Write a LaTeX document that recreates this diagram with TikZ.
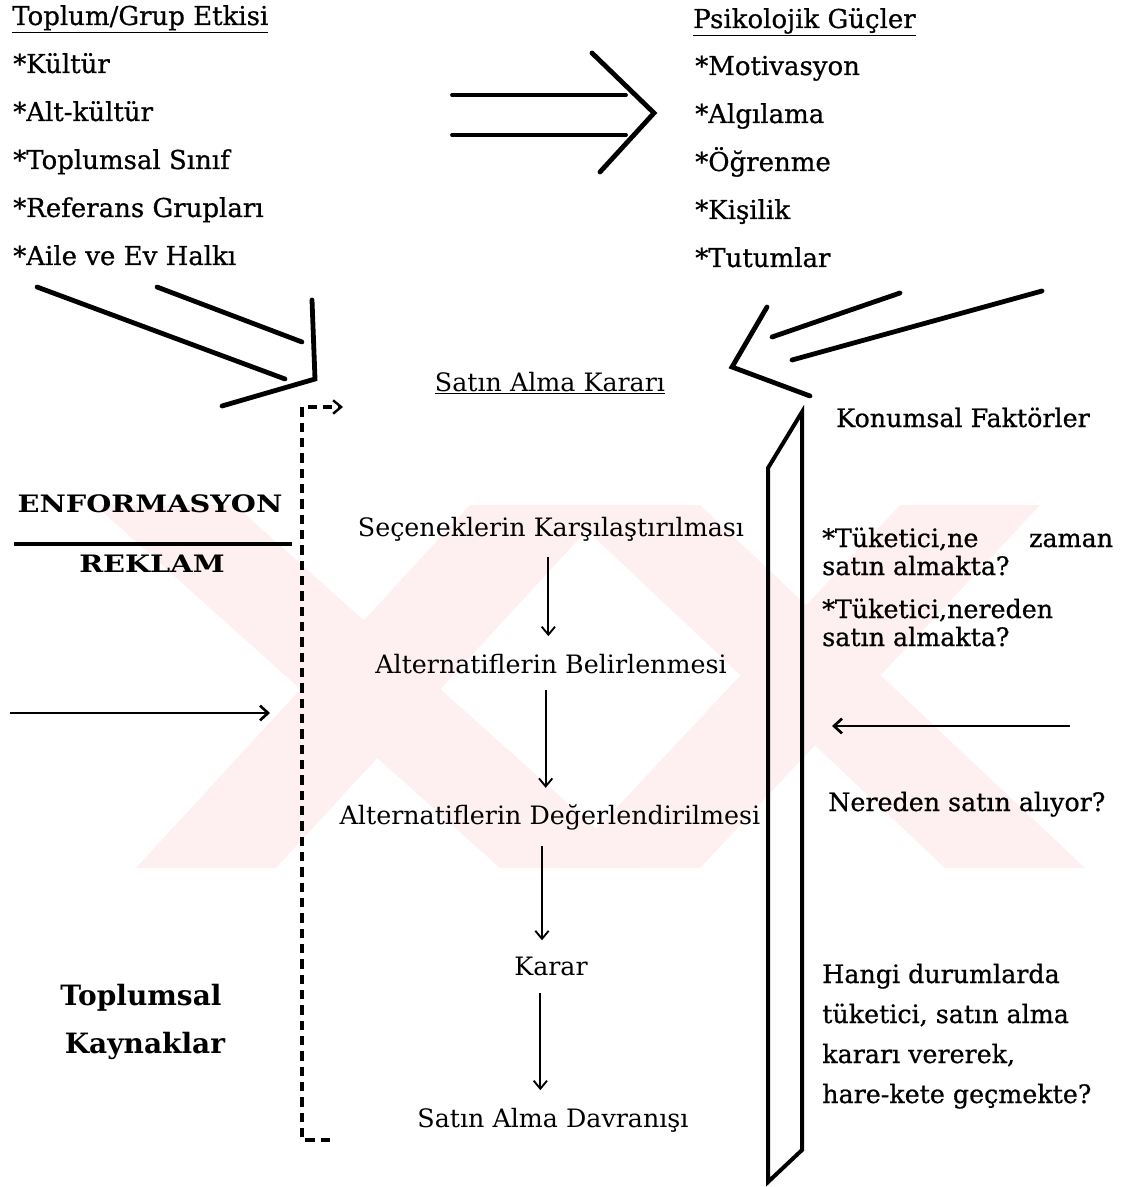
\documentclass[tikz,border=0pt]{standalone}
\usepackage{fontspec}
\setmainfont{DejaVu Serif}
\newfontfamily\widefont{DejaVu Serif}[FakeStretch=1.2]
\newfontfamily\heavyfont{DejaVu Serif}[FakeBold=0.7]
\usetikzlibrary{arrows.meta}
\definecolor{wmpink}{RGB}{254,239,241}
\begin{document}
\begin{tikzpicture}[x=0.75pt,y=-0.75pt,
  listtxt/.style={inner sep=0pt, anchor=base west, font=\heavyfont\fontsize{19.5}{22}\selectfont},
  sidetxt/.style={inner sep=0pt, anchor=base west, font=\heavyfont\fontsize{19}{22}\selectfont},
  steptxt/.style={inner sep=0pt, anchor=base, font=\fontsize{19}{22}\selectfont},
  headtxt/.style={inner sep=0pt, anchor=base, font=\widefont\bfseries\fontsize{18}{20}\selectfont},
  boldtxt/.style={inner sep=0pt, anchor=base, font=\bfseries\fontsize{21}{24}\selectfont},
  heavy/.style={line width=3.6pt, line cap=round, line join=miter},
  medium/.style={line width=2.8pt, line cap=round},
  flow/.style={line width=1.4pt, -{Straight Barb[length=6pt,width=10pt,line width=1.4pt]}},
  dashline/.style={line width=2.6pt, dash pattern=on 7pt off 4.5pt}
]
\useasboundingbox (0,0) rectangle (1121,1187);

% faint background emblem
\begin{scope}
  \fill[wmpink] (95,505) -- (235,505) -- (640,868) -- (500,868) -- cycle;
  \fill[wmpink] (470,505) -- (610,505) -- (276,868) -- (136,868) -- cycle;
  \fill[wmpink] (560,505) -- (700,505) -- (1085,868) -- (945,868) -- cycle;
  \fill[wmpink] (900,505) -- (1040,505) -- (700,868) -- (560,868) -- cycle;
\end{scope}

% group influences (top left)
\node[listtxt] (tg)  at (12,25)  {\underline{Toplum/Grup Etkisi}};
\node[listtxt] (tg1) at (13,73)  {*Kültür};
\node[listtxt] (tg2) at (13,121) {*Alt-kültür};
\node[listtxt] (tg3) at (13,169) {*Toplumsal Sınıf};
\node[listtxt] (tg4) at (13,217) {*Referans Grupları};
\node[listtxt] (tg5) at (13,265) {*Aile ve Ev Halkı};

% psychological forces (top right)
\node[listtxt] (pg)  at (693,28)  {\underline{Psikolojik Güçler}};
\node[listtxt] (pg1) at (695,75)  {*Motivasyon};
\node[listtxt] (pg2) at (695,123) {*Algılama};
\node[listtxt] (pg3) at (695,171) {*Öğrenme};
\node[listtxt] (pg4) at (695,219) {*Kişilik};
\node[listtxt] (pg5) at (695,267) {*Tutumlar};

% double arrow between the two lists
\coordinate (da1) at (452,95);  \coordinate (da2) at (626,95);
\coordinate (db1) at (452,135); \coordinate (db2) at (626,135);
\coordinate (dct) at (592,53);  \coordinate (dcm) at (654,113); \coordinate (dcb) at (600,172);
\draw[medium] (da1) -- (da2);
\draw[medium] (db1) -- (db2);
\draw[heavy] (dct) -- (dcm) -- (dcb);

% converging arrow from the left
\coordinate (la1) at (37,287);  \coordinate (la2) at (285,379);
\coordinate (lb1) at (157,287); \coordinate (lb2) at (302,342);
\coordinate (lv)  at (312,300); \coordinate (lc)  at (315,379); \coordinate (lw) at (222,406);
\draw[heavy] (la1) -- (la2);
\draw[heavy] (lb1) -- (lb2);
\draw[heavy] (lv) -- (lc) -- (lw);

% converging arrow from the right
\coordinate (ra1) at (900,293);  \coordinate (ra2) at (772,337);
\coordinate (rb1) at (1042,291); \coordinate (rb2) at (792,360);
\coordinate (rt)  at (767,307);  \coordinate (rc)  at (732,367); \coordinate (rw) at (810,396);
\draw[heavy] (ra1) -- (ra2);
\draw[heavy] (rb1) -- (rb2);
\draw[heavy] (rt) -- (rc) -- (rw);

% decision process (centre column)
\node[steptxt] (karar) at (550,391) {\underline{Satın Alma Kararı}};
\node[steptxt] (s1) at (551,536)  {Seçeneklerin Karşılaştırılması};
\node[steptxt] (s2) at (551,673)  {Alternatiflerin Belirlenmesi};
\node[steptxt] (s3) at (550,824)  {Alternatiflerin Değerlendirilmesi};
\node[steptxt] (s4) at (551,975)  {Karar};
\node[steptxt] (s5) at (553,1127) {Satın Alma Davranışı};
\draw[flow, shorten <=12pt, shorten >=13pt] ([xshift=-2pt]s1.south) -- ([xshift=-2pt]s1.south |- s2.north);
\draw[flow, shorten <=12pt, shorten >=12pt] ([xshift=-4pt]s2.south) -- ([xshift=-4pt]s2.south |- s3.north);
\draw[flow, shorten <=12pt, shorten >=12pt] ([xshift=-6pt]s3.south) -- ([xshift=-6pt]s3.south |- s4.north);
\draw[flow, shorten <=13pt, shorten >=13pt] ([xshift=-8pt]s4.south) -- ([xshift=-8pt]s4.south |- s5.north);

% dashed feedback bracket
\coordinate (fb0) at (330,1140);
\coordinate (fb1) at (302,1140);
\coordinate (fb2) at (302,407);
\coordinate (fb3) at (343,407);
\draw[dashline, -{Straight Barb[length=6pt,width=10pt,line width=1.8pt]}] (fb0) -- (fb1) -- (fb2) -- (fb3);

% information sources (left)
\node[headtxt] (enf) at (150,512) {ENFORMASYON};
\node[headtxt] (rek) at (152,572) {REKLAM};
\coordinate (ln1) at (14,544); \coordinate (ln2) at (292,544);
\draw[line width=2.4pt] (ln1) -- (ln2);
\coordinate (in1) at (10,713); \coordinate (in2) at (270,713);
\draw[line width=2pt, -{Straight Barb[length=6pt,width=11pt,line width=2pt]}] (in1) -- (in2);
\node[boldtxt] (tk1) at (141,1005) {Toplumsal};
\node[boldtxt] (tk2) at (145,1053) {Kaynaklar};

% situational factors (right)
\node[sidetxt] (kf) at (836,427) {Konumsal Faktörler};
\coordinate (bt) at (802,412); \coordinate (bb) at (802,1150);
\coordinate (cb) at (768,1182); \coordinate (ct) at (768,468);
\draw[line width=3pt, line join=miter] (bt) -- (bb) -- (cb) -- (ct) -- cycle;
\node[sidetxt] (q1a) at (822,547) {*Tüketici,ne\hspace{2em}zaman};
\node[sidetxt] (q1b) at (822,575) {satın almakta?};
\node[sidetxt] (q2a) at (822,618) {*Tüketici,nereden};
\node[sidetxt] (q2b) at (822,646) {satın almakta?};
\coordinate (rin1) at (1070,726); \coordinate (rin2) at (832,726);
\draw[line width=2pt, -{Straight Barb[length=6pt,width=11pt,line width=2pt]}] (rin1) -- (rin2);
\node[sidetxt] (q3) at (828,811) {Nereden satın alıyor?};
\node[sidetxt] (q4a) at (822,983)  {Hangi durumlarda};
\node[sidetxt] (q4b) at (822,1023) {tüketici, satın alma};
\node[sidetxt] (q4c) at (822,1063) {kararı vererek,};
\node[sidetxt] (q4d) at (822,1103) {hare-kete geçmekte?};
\end{tikzpicture}
\end{document}
